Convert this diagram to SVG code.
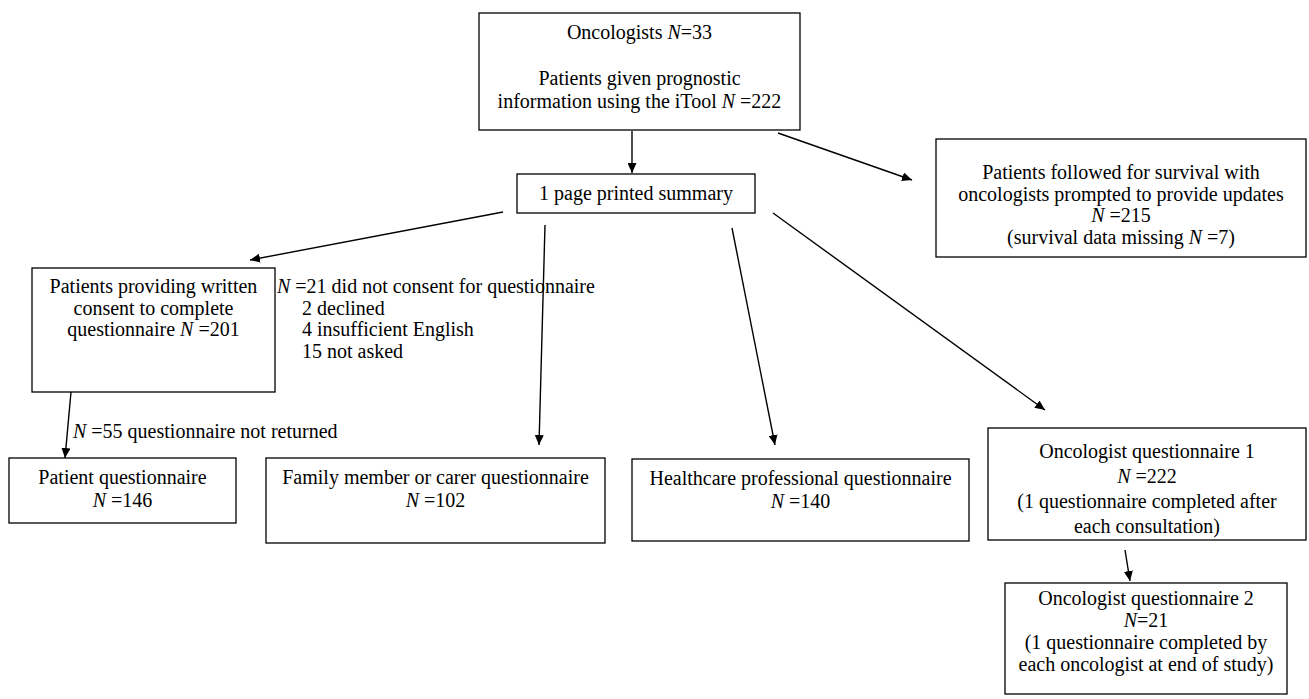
<svg xmlns="http://www.w3.org/2000/svg" width="1309" height="699" viewBox="0 0 1309 699">
<style>
text{font-family:"Liberation Serif","Times New Roman",serif;font-size:20px;fill:#000}
.c{text-anchor:middle}
.i{font-style:italic}
rect{fill:#fff;stroke:#000;stroke-width:1.3}
.e line{stroke:#000;stroke-width:1.4;marker-end:url(#ah)}
</style>
<defs>
<marker id="ah" markerWidth="10" markerHeight="9" refX="10" refY="4.5" orient="auto" markerUnits="userSpaceOnUse"><path d="M0,0 L10,4.5 L0,9 z" fill="#000"/></marker>
</defs>
<rect x="0" y="0" width="1309" height="699" style="fill:#fff;stroke:none"/>
<g class="e" id="connectors">
<line x1="632" y1="131" x2="632" y2="173"/>
<line x1="778" y1="133" x2="912" y2="180"/>
<line x1="503" y1="212" x2="250" y2="260"/>
<line x1="545" y1="225" x2="539" y2="445"/>
<line x1="732" y1="228" x2="775" y2="445"/>
<line x1="773" y1="213" x2="1045" y2="410"/>
<line x1="71" y1="392" x2="65" y2="458"/>
<line x1="1125" y1="550" x2="1130" y2="581"/>
</g>
<g id="n-top"><rect x="479" y="13" width="321" height="117"/>
<text class="c" x="639.5" y="39">Oncologists <tspan class="i">N</tspan>=33</text>
<text class="c" x="639.5" y="85">Patients given prognostic</text>
<text class="c" x="639.5" y="108">information using the iTool <tspan class="i">N</tspan> =222</text></g>
<g id="n-summary"><rect x="517" y="174" width="238" height="39"/>
<text class="c" x="636" y="200">1 page printed summary</text></g>
<g id="n-survival"><rect x="936" y="139" width="370" height="118"/>
<text class="c" x="1121" y="179">Patients followed for survival with</text>
<text class="c" x="1121" y="200.5">oncologists prompted to provide updates</text>
<text class="c" x="1121" y="222"><tspan class="i">N</tspan> =215</text>
<text class="c" x="1121" y="243.5">(survival data missing <tspan class="i">N</tspan> =7)</text></g>
<g id="n-consent"><rect x="32" y="268" width="243" height="124"/>
<text class="c" x="153.5" y="293">Patients providing written</text>
<text class="c" x="153.5" y="314.5">consent to complete</text>
<text class="c" x="153.5" y="336">questionnaire <tspan class="i">N</tspan> =201</text></g>
<g id="n-noconsent">
<text x="277" y="293"><tspan class="i">N</tspan> =21 did not consent for questionnaire</text>
<text x="302" y="314.5">2 declined</text>
<text x="302" y="336">4 insufficient English</text>
<text x="302" y="357.5">15 not asked</text></g>
<g id="n-notreturned"><text x="73" y="438"><tspan class="i">N</tspan> =55 questionnaire not returned</text></g>
<g id="n-patient"><rect x="9" y="458" width="227" height="65"/>
<text class="c" x="122.5" y="484">Patient questionnaire</text>
<text class="c" x="122.5" y="507"><tspan class="i">N</tspan> =146</text></g>
<g id="n-family"><rect x="266" y="458" width="339" height="85"/>
<text class="c" x="435.5" y="484">Family member or carer questionnaire</text>
<text class="c" x="435.5" y="507"><tspan class="i">N</tspan> =102</text></g>
<g id="n-hcp"><rect x="632" y="459" width="337" height="82"/>
<text class="c" x="800.5" y="485">Healthcare professional questionnaire</text>
<text class="c" x="800.5" y="508"><tspan class="i">N</tspan> =140</text></g>
<g id="n-oq1"><rect x="988" y="428" width="318" height="112"/>
<text class="c" x="1147" y="458">Oncologist questionnaire 1</text>
<text class="c" x="1147" y="483"><tspan class="i">N</tspan> =222</text>
<text class="c" x="1147" y="508">(1 questionnaire completed after</text>
<text class="c" x="1147" y="533">each consultation)</text></g>
<g id="n-oq2"><rect x="1005" y="583" width="282" height="111"/>
<text class="c" x="1146" y="605">Oncologist questionnaire 2</text>
<text class="c" x="1146" y="627"><tspan class="i">N</tspan>=21</text>
<text class="c" x="1146" y="649">(1 questionnaire completed by</text>
<text class="c" x="1146" y="671">each oncologist at end of study)</text></g>
</svg>
